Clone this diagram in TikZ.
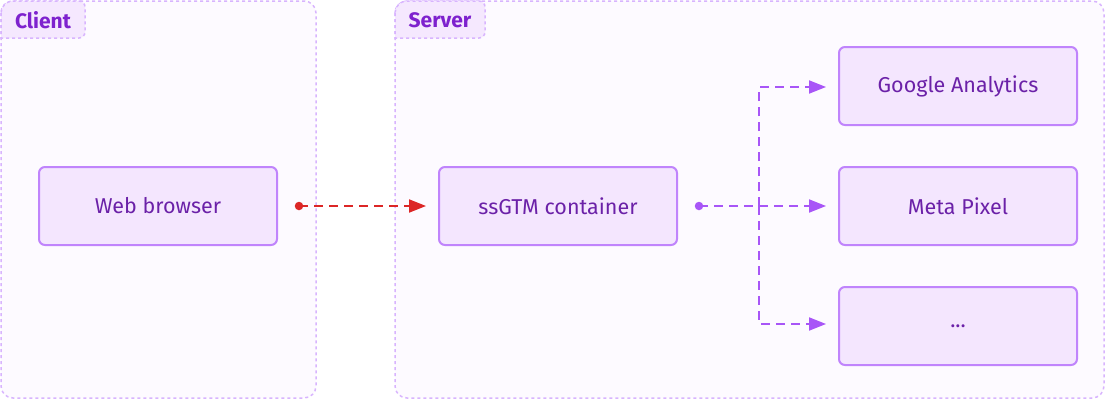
\documentclass[tikz,border=0pt]{standalone}
\usepackage{fontspec}
\setmainfont{Fira Sans}
\usetikzlibrary{arrows.meta,calc}
\definecolor{grpfill}{HTML}{FDFAFF}
\definecolor{grpline}{HTML}{D8B4FE}
\definecolor{tabfill}{HTML}{F5E8FE}
\definecolor{boxfill}{HTML}{F4E6FE}
\definecolor{boxline}{HTML}{C084FC}
\definecolor{boxtext}{HTML}{6B21A8}
\definecolor{grptext}{HTML}{7E22CE}
\definecolor{redline}{HTML}{DC2626}
\definecolor{purpline}{HTML}{A855F7}
\tikzset{
  x=1pt,y=-1pt,
  group/.style={draw=grpline,fill=grpfill,line width=1.5pt,dash pattern=on 3pt off 3pt,rounded corners=12pt},
  grouptab/.style={draw=grpline,fill=tabfill,line width=1.5pt,dash pattern=on 3pt off 3pt},
  grouplabel/.style={text=grptext,font=\fontsize{21}{24}\selectfont\bfseries,anchor=center,inner sep=0pt},
  stepbox/.style={draw=boxline,fill=boxfill,line width=2pt,rounded corners=6pt,minimum width=238pt,minimum height=78pt,text=boxtext,font=\fontsize{21.5}{25}\selectfont,inner sep=0pt},
  flow/.style={line width=2pt,dash pattern=on 9pt off 6pt,shorten >=12pt},
  redflow/.style={flow,draw=redline,-{Triangle[length=17pt,width=13pt,fill=redline,sep=0pt]}},
  purpflow/.style={flow,draw=purpline,-{Triangle[length=17pt,width=13pt,fill=purpline]}},
  dotc/.style={circle,inner sep=0pt,minimum size=8.5pt},
}
\begin{document}
\begin{tikzpicture}
\useasboundingbox (0,0) rectangle (1106,400);
% groups
\path[group] (1,1) rectangle (316,398);
\path[grouptab] (1,13) -- (1,38) -- (73,38) [rounded corners=6pt] -- (85,38) -- (85,1) [rounded corners=12pt] -- (1,1) [sharp corners] -- cycle;
\node[grouplabel] (clientlbl) at (43,20) {Client};
\path[group] (395,1) rectangle (1104,398);
\path[grouptab] (395,13) -- (395,38) [rounded corners=6pt] -- (485,38) -- (485,1) [rounded corners=12pt] -- (395,1) [sharp corners] -- cycle;
\node[grouplabel] (serverlbl) at (440,20) {Server};
% boxes
\node[stepbox] (wb) at (158,206) {Web browser};
\node[stepbox] (ss) at (558,206) {ssGTM container};
\node[stepbox] (ga) at (958,86) {Google Analytics};
\node[stepbox] (mp) at (958,206) {Meta Pixel};
\node[stepbox] (etc) at (958,326) {...};
% connectors
\node[dotc,fill=redline] (wbdot) at ($(wb.east)+(21,0)$) {};
\draw[redflow] (wbdot.center) -- (ss.west);
\node[dotc,fill=purpline] (ssdot) at ($(ss.east)+(21,0)$) {};
\coordinate (br) at ($(ssdot.center)+(60,0)$);
\draw[purpflow] (ssdot.center) -- (mp.west);
\draw[purpflow] (br) |- ($(ga.west)+(0,1)$);
\draw[purpflow] (br) |- ($(etc.west)+(0,-2)$);
\end{tikzpicture}
\end{document}
